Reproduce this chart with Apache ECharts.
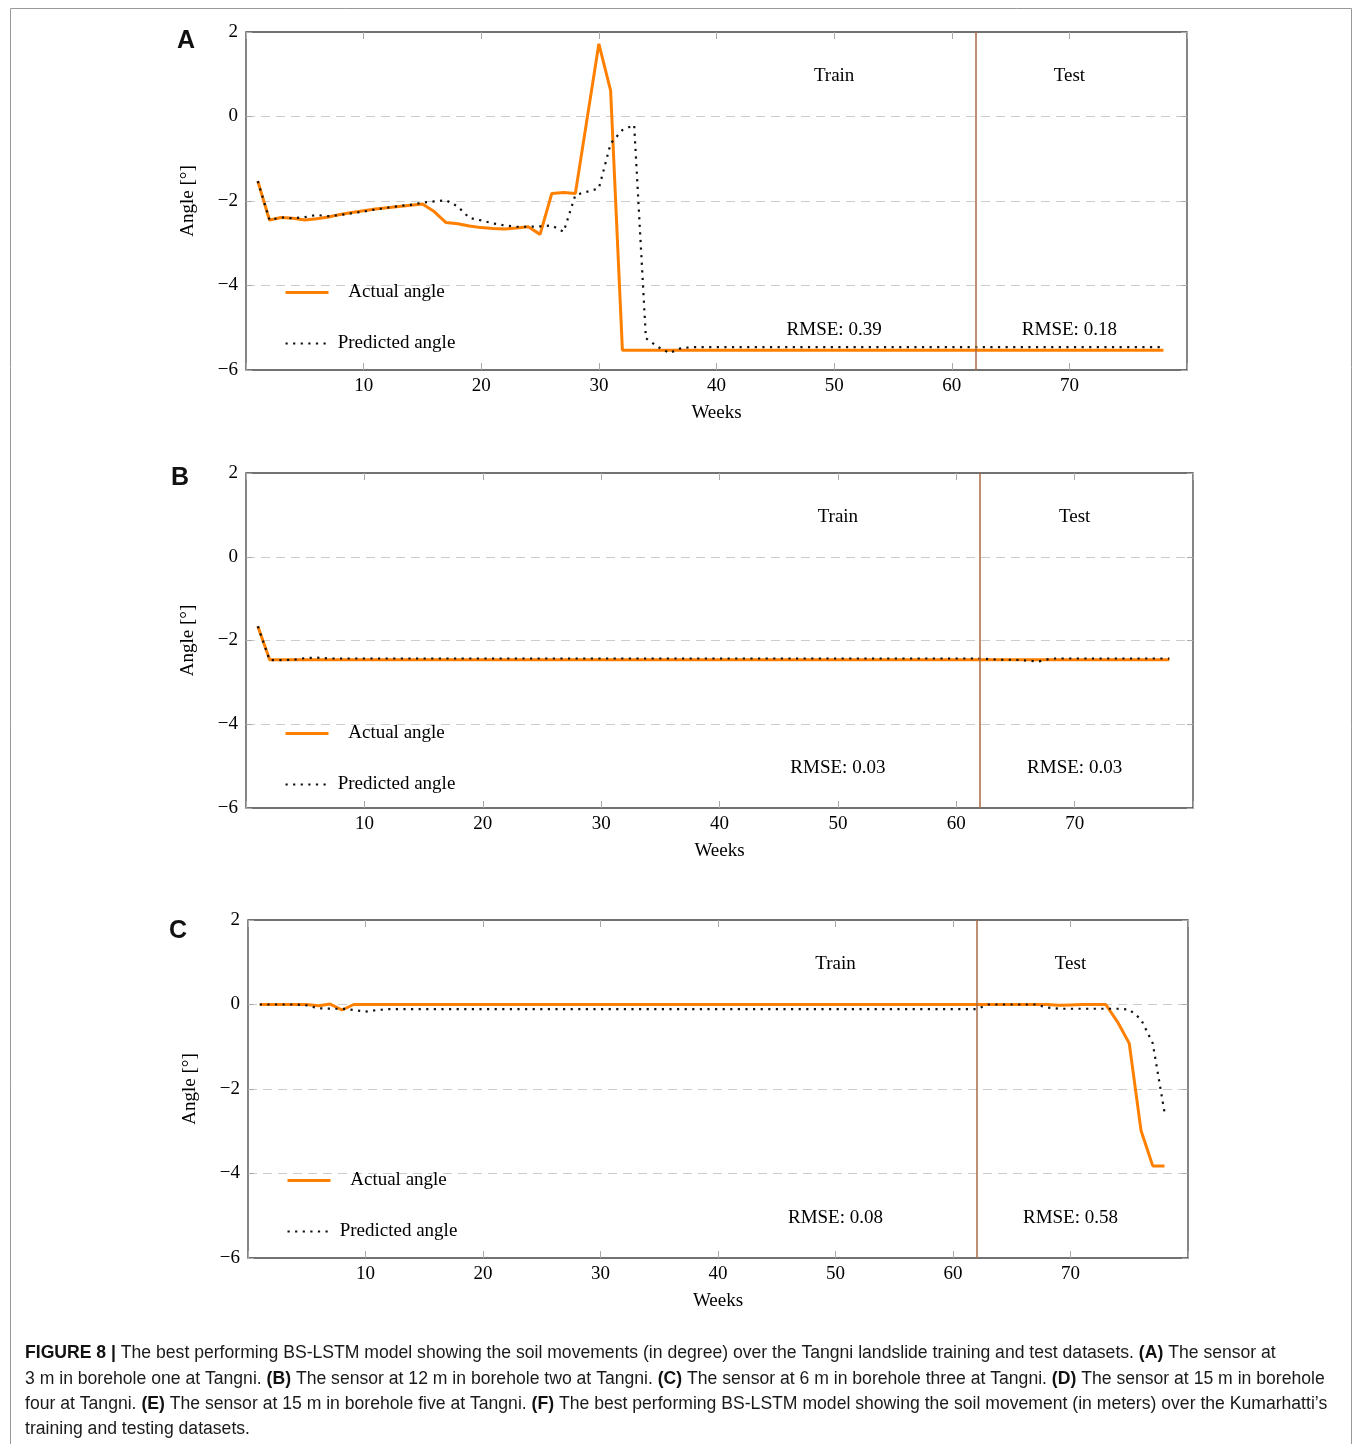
<!DOCTYPE html>
<html>
<head>
<meta charset="utf-8">
<script src="https://cdn.jsdelivr.net/npm/echarts@6/dist/echarts.min.js"></script>
<style>
  html, body { margin: 0; padding: 0; background: #fff; }
  #main { width: 1355px; height: 1444px; }
</style>
</head>
<body>
<div id="main"></div>
<script>
// weeks 1..78
var weeks = [
  1, 2, 3, 4, 5, 6, 7, 8, 9, 10,
  11, 12, 13, 14, 15, 16, 17, 18, 19, 20,
  21, 22, 23, 24, 25, 26, 27, 28, 29, 30,
  31, 32, 33, 34, 35, 36, 37, 38, 39, 40,
  41, 42, 43, 44, 45, 46, 47, 48, 49, 50,
  51, 52, 53, 54, 55, 56, 57, 58, 59, 60,
  61, 62, 63, 64, 65, 66, 67, 68, 69, 70,
  71, 72, 73, 74, 75, 76, 77, 78
];

// panel A - sensor at 3 m, borehole one
var aActual = [
  -1.53, -2.45, -2.39, -2.41, -2.45, -2.42, -2.38, -2.32, -2.27, -2.23,
  -2.19, -2.16, -2.13, -2.10, -2.07, -2.25, -2.51, -2.54, -2.59, -2.63,
  -2.65, -2.66, -2.64, -2.61, -2.79, -1.82, -1.80, -1.82, -0.05, 1.72,
  0.61, -5.53, -5.53, -5.53, -5.53, -5.53, -5.53, -5.53, -5.53, -5.53,
  -5.53, -5.53, -5.53, -5.53, -5.53, -5.53, -5.53, -5.53, -5.53, -5.53,
  -5.53, -5.53, -5.53, -5.53, -5.53, -5.53, -5.53, -5.53, -5.53, -5.53,
  -5.53, -5.53, -5.53, -5.53, -5.53, -5.53, -5.53, -5.53, -5.53, -5.53,
  -5.53, -5.53, -5.53, -5.53, -5.53, -5.53, -5.53, -5.53
];
var aPredicted = [
  -1.53, -2.45, -2.39, -2.41, -2.38, -2.33, -2.36, -2.33, -2.29, -2.25,
  -2.20, -2.16, -2.12, -2.09, -2.04, -2.01, -1.98, -2.13, -2.40, -2.46,
  -2.53, -2.58, -2.61, -2.61, -2.60, -2.58, -2.73, -1.86, -1.78, -1.70,
  -0.64, -0.32, -0.20, -5.25, -5.45, -5.60, -5.48, -5.46, -5.46, -5.46,
  -5.46, -5.46, -5.46, -5.46, -5.46, -5.46, -5.46, -5.46, -5.46, -5.46,
  -5.46, -5.46, -5.46, -5.46, -5.46, -5.46, -5.46, -5.46, -5.46, -5.46,
  -5.46, -5.46, -5.46, -5.46, -5.46, -5.46, -5.46, -5.46, -5.46, -5.46,
  -5.46, -5.46, -5.46, -5.46, -5.46, -5.46, -5.46, -5.46
];

// panel B - sensor at 12 m, borehole two
var bActual = [
  -1.66, -2.46, -2.46, -2.46, -2.46, -2.46, -2.46, -2.46, -2.46, -2.46,
  -2.46, -2.46, -2.46, -2.46, -2.46, -2.46, -2.46, -2.46, -2.46, -2.46,
  -2.46, -2.46, -2.46, -2.46, -2.46, -2.46, -2.46, -2.46, -2.46, -2.46,
  -2.46, -2.46, -2.46, -2.46, -2.46, -2.46, -2.46, -2.46, -2.46, -2.46,
  -2.46, -2.46, -2.46, -2.46, -2.46, -2.46, -2.46, -2.46, -2.46, -2.46,
  -2.46, -2.46, -2.46, -2.46, -2.46, -2.46, -2.46, -2.46, -2.46, -2.46,
  -2.46, -2.46, -2.46, -2.46, -2.46, -2.46, -2.46, -2.46, -2.46, -2.46,
  -2.46, -2.46, -2.46, -2.46, -2.46, -2.46, -2.46, -2.46
];
var bPredicted = [
  -1.66, -2.47, -2.47, -2.46, -2.42, -2.41, -2.43, -2.43, -2.43, -2.43,
  -2.43, -2.43, -2.43, -2.43, -2.43, -2.43, -2.43, -2.43, -2.43, -2.43,
  -2.43, -2.43, -2.43, -2.43, -2.43, -2.43, -2.43, -2.43, -2.43, -2.43,
  -2.43, -2.43, -2.43, -2.43, -2.43, -2.43, -2.43, -2.43, -2.43, -2.43,
  -2.43, -2.43, -2.43, -2.43, -2.43, -2.43, -2.43, -2.43, -2.43, -2.43,
  -2.43, -2.43, -2.43, -2.43, -2.43, -2.43, -2.43, -2.43, -2.43, -2.43,
  -2.43, -2.43, -2.45, -2.46, -2.46, -2.48, -2.50, -2.43, -2.43, -2.43,
  -2.43, -2.43, -2.43, -2.43, -2.43, -2.43, -2.43, -2.43
];

// panel C - sensor at 6 m, borehole three
var cActual = [
  0.00, 0.00, 0.00, 0.00, 0.00, -0.03, 0.01, -0.13, 0.00, 0.00,
  0.00, 0.00, 0.00, 0.00, 0.00, 0.00, 0.00, 0.00, 0.00, 0.00,
  0.00, 0.00, 0.00, 0.00, 0.00, 0.00, 0.00, 0.00, 0.00, 0.00,
  0.00, 0.00, 0.00, 0.00, 0.00, 0.00, 0.00, 0.00, 0.00, 0.00,
  0.00, 0.00, 0.00, 0.00, 0.00, 0.00, 0.00, 0.00, 0.00, 0.00,
  0.00, 0.00, 0.00, 0.00, 0.00, 0.00, 0.00, 0.00, 0.00, 0.00,
  0.00, 0.00, 0.00, 0.00, 0.00, 0.00, 0.00, 0.00, -0.02, -0.01,
  0.00, 0.00, 0.00, -0.41, -0.92, -2.98, -3.82, -3.82
];
var cPredicted = [
  0.00, 0.00, 0.00, 0.00, -0.02, -0.09, -0.10, -0.10, -0.13, -0.17,
  -0.13, -0.11, -0.11, -0.11, -0.11, -0.11, -0.11, -0.11, -0.11, -0.11,
  -0.11, -0.11, -0.11, -0.11, -0.11, -0.11, -0.11, -0.11, -0.11, -0.11,
  -0.11, -0.11, -0.11, -0.11, -0.11, -0.11, -0.11, -0.11, -0.11, -0.11,
  -0.11, -0.11, -0.11, -0.11, -0.11, -0.11, -0.11, -0.11, -0.11, -0.11,
  -0.11, -0.11, -0.11, -0.11, -0.11, -0.11, -0.11, -0.11, -0.11, -0.11,
  -0.11, -0.11, 0.00, 0.00, 0.00, 0.00, 0.00, -0.07, -0.10, -0.10,
  -0.10, -0.10, -0.10, -0.10, -0.12, -0.35, -0.92, -2.55
];

// train / test split and annotations
var splitWeek = 62;
var rmseTrain = ['0.39', '0.03', '0.08'];
var rmseTest = ['0.18', '0.03', '0.58'];
var panelNames = ['A', 'B', 'C'];

var yTicks = [-6, -4, -2, 0, 2];
var xTicks = [10, 20, 30, 40, 50, 60, 70];

(function() {
    var chartDom = document.getElementById('main');
    var myChart = echarts.init(chartDom);

    var serif = 'Liberation Serif';
    var orange = '#ff8000';
    var brown = '#a86a45';
    var dots = [2.2, 5.4];

    var grids = [
        { left: 246, top: 32, width: 941, height: 338 },
        { left: 246, top: 473, width: 947, height: 335 },
        { left: 248, top: 920, width: 940, height: 338 }
    ];
    var panels = [
        [aActual, aPredicted],
        [bActual, bPredicted],
        [cActual, cPredicted]
    ];
    var letterPos = [[186, 39], [180, 476], [178, 929]];

    function pairs(values) {
        return weeks.map(function(w, i) { return [w, values[i]]; });
    }
    function minus(v) {
        return v < 0 ? '\u2212' + Math.abs(v) : String(v);
    }

    var option = {
        animation: false,
        backgroundColor: '#fff',
        grid: [],
        xAxis: [],
        yAxis: [],
        legend: [],
        series: [],
        graphic: []
    };

    grids.forEach(function(g, i) {
        option.grid.push({
            left: g.left, top: g.top, width: g.width, height: g.height,
            show: true, borderColor: '#444', borderWidth: 1.3,
            backgroundColor: 'transparent'
        });

        // bottom axis with labels
        option.xAxis.push({
            type: 'value', gridIndex: i, min: 0, max: 80, interval: 10,
            name: 'Weeks', nameLocation: 'middle', nameGap: 34,
            nameTextStyle: { fontFamily: serif, fontSize: 19, color: '#000' },
            axisLine: { show: false, onZero: false },
            axisTick: { show: true, inside: true, length: 7, lineStyle: { color: '#aaa' } },
            axisLabel: {
                fontFamily: serif, fontSize: 19, color: '#000', margin: 7,
                formatter: function(v) { return xTicks.indexOf(v) >= 0 ? String(v) : ''; }
            },
            splitLine: { show: false }
        });
        // left axis with labels and dashed grid
        option.yAxis.push({
            type: 'value', gridIndex: i, min: -6, max: 2, interval: 2,
            name: 'Angle [°]', nameLocation: 'middle', nameGap: 48, nameRotate: 90,
            nameTextStyle: { fontFamily: serif, fontSize: 19, color: '#000' },
            axisLine: { show: false, onZero: false },
            axisTick: { show: true, inside: true, length: 6, lineStyle: { color: '#aaa' } },
            axisLabel: {
                fontFamily: serif, fontSize: 19, color: '#000', margin: 8,
                formatter: function(v) { return yTicks.indexOf(v) >= 0 ? minus(v) : ''; }
            },
            splitLine: {
                show: true, showMinLine: false, showMaxLine: false,
                lineStyle: { color: '#cccccc', width: 1.2, type: [9, 6] }
            }
        });

        // legend for this panel
        option.legend.push({
            left: g.left + 38, top: g.top + 251, padding: 0,
            orient: 'vertical', itemWidth: 43, itemHeight: 14, itemGap: 32,
            data: [
                { name: 'Actual angle', lineStyle: { color: orange, width: 3, type: 'solid' } },
                { name: 'Predicted angle', lineStyle: { color: '#111', width: 2.2, type: dots } }
            ],
            itemStyle: { color: 'rgba(0,0,0,0)', borderWidth: 0, opacity: 0 },
            formatter: function(name) { return '{c|' + name + '}'; },
            textStyle: {
                fontFamily: serif, fontSize: 19, color: '#000',
                rich: { c: { width: 126, align: 'center', fontFamily: serif, fontSize: 19, color: '#000' } }
            },
            selectedMode: false
        });

        option.series.push({
            name: 'Actual angle', type: 'line', xAxisIndex: i, yAxisIndex: i,
            data: pairs(panels[i][0]),
            symbol: 'none', z: 3,
            lineStyle: { color: orange, width: 3 },
            itemStyle: { color: orange },
            markLine: {
                silent: true, symbol: 'none', label: { show: false },
                lineStyle: { color: brown, width: 1.5, type: 'solid' },
                data: [{ xAxis: splitWeek }]
            }
        });
        option.series.push({
            name: 'Predicted angle', type: 'line', xAxisIndex: i, yAxisIndex: i,
            data: pairs(panels[i][1]),
            symbol: 'none', z: 4,
            lineStyle: { color: '#111', width: 2.2, type: dots },
            itemStyle: { color: '#111' }
        });
        // Train / Test / RMSE labels placed in data coordinates
        option.series.push({
            type: 'scatter', xAxisIndex: i, yAxisIndex: i, silent: true,
            symbolSize: 0,
            data: [
                { name: 'Train', value: [50, 1] },
                { name: 'Test', value: [70, 1] },
                { name: 'RMSE: ' + rmseTrain[i], value: [50, -5] },
                { name: 'RMSE: ' + rmseTest[i], value: [70, -5] }
            ],
            label: {
                show: true, position: 'inside', formatter: '{b}', offset: [0, 2],
                fontFamily: serif, fontSize: 19, color: '#000', opacity: 1
            }
        });

        // panel letter
        option.graphic.push({
            type: 'text', left: letterPos[i][0] - 9, top: letterPos[i][1] - 10,
            style: { text: panelNames[i], font: 'bold 25px "Liberation Sans"', fill: '#111' }
        });
    });

    // top and right axes carrying only the inner ticks
    grids.forEach(function(g, i) {
        option.xAxis.push({
            type: 'value', gridIndex: i, min: 0, max: 80, interval: 10, position: 'top',
            axisLine: { show: false, onZero: false },
            axisTick: { show: true, inside: true, length: 7, lineStyle: { color: '#aaa' } },
            axisLabel: { show: false }, splitLine: { show: false }
        });
        option.yAxis.push({
            type: 'value', gridIndex: i, min: -6, max: 2, interval: 2, position: 'right',
            axisLine: { show: false, onZero: false },
            axisTick: { show: true, inside: true, length: 6, lineStyle: { color: '#aaa' } },
            axisLabel: { show: false }, splitLine: { show: false }
        });
    });

    // outer frame
    option.graphic.push({
        type: 'rect', silent: true,
        shape: { x: 10.5, y: 8.5, width: 1341, height: 1500 },
        style: { fill: 'none', stroke: '#999', lineWidth: 1 }
    });

    // caption
    var caption = [
        '{b|FIGURE 8 |} The best performing BS-LSTM model showing the soil movements (in degree) over the Tangni landslide training and test datasets. {b|(A)} The sensor at',
        '3 m in borehole one at Tangni. {b|(B)} The sensor at 12 m in borehole two at Tangni. {b|(C)} The sensor at 6 m in borehole three at Tangni. {b|(D)} The sensor at 15 m in borehole',
        'four at Tangni. {b|(E)} The sensor at 15 m in borehole five at Tangni. {b|(F)} The best performing BS-LSTM model showing the soil movement (in meters) over the Kumarhatti\u2019s',
        'training and testing datasets.'
    ];
    var captionY = [1352, 1378, 1403, 1428];
    caption.forEach(function(line, k) {
        option.graphic.push({
            type: 'text', left: 25, top: captionY[k] - 8,
            style: {
                text: line,
                font: '17.6px "Liberation Sans"', fill: '#1a1a1a',
                rich: { b: { font: 'bold 17.6px "Liberation Sans"', fill: '#111' } }
            }
        });
    });

    myChart.setOption(option);
})();
</script>
</body>
</html>
